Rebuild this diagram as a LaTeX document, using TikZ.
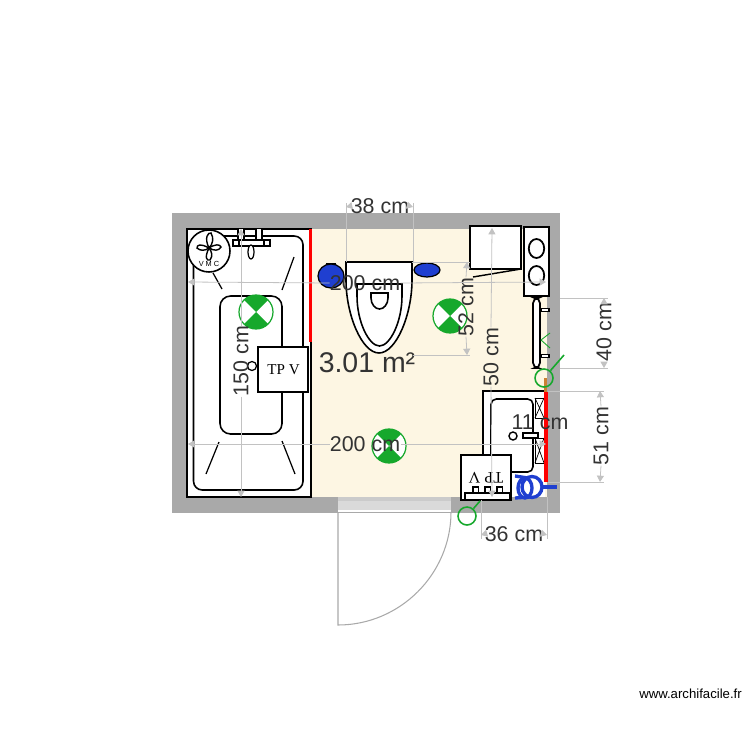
\documentclass[tikz,border=0pt]{standalone}
\usepackage{fontspec}
\setmainfont{Liberation Sans}
\usetikzlibrary{arrows.meta}

\definecolor{wallgray}{HTML}{A9A9A9}
\definecolor{doorgray}{HTML}{DADADA}
\definecolor{floorcream}{HTML}{FDF6E3}
\definecolor{dimgray}{HTML}{C2C2C2}
\definecolor{spotgreen}{HTML}{16A82C}
\definecolor{ballblue}{HTML}{1F3FD0}
\definecolor{textdark}{HTML}{333333}

\tikzset{
  fixture/.style={draw=black,line width=.9pt,fill=white},
  dimline/.style={draw=dimgray,line width=.45pt,-{Triangle[length=3.6pt,width=4pt,fill=dimgray]}},
  extline/.style={draw=dimgray,line width=.4pt},
  dimlabel/.style={text=textdark,font=\fontsize{12.2}{14}\selectfont,inner sep=0pt},
  redwire/.style={draw=red,line width=2.2pt},
  bluewire/.style={draw=ballblue,line width=1.9pt},
  greenwire/.style={draw=spotgreen,line width=.9pt}
}

\begin{document}
\begin{tikzpicture}[x=0.02cm,y=-0.02cm]
  \useasboundingbox (0,0) rectangle (750,750);

  % walls and floor
  \fill[wallgray] (172,213) rectangle (560,512.5);
  \fill[floorcream] (187,229) rectangle (547,497);
  \fill[white] (187,229) rectangle (311,497);
  \draw[black,line width=.9pt] (187,497) -- (187,229) -- (311,229) -- (311,497) -- cycle;
  \fill[white] (338,497) rectangle (451,512.5);
  \fill[doorgray] (338,497) rectangle (451,510);
  \fill[doorgray!70!wallgray] (338,497) rectangle (451,500.5);

  % door
  \draw[wallgray,line width=.5pt] (338,512) -- (451,512);
  \draw[wallgray,line width=.6pt] (338,512) -- (338,625) .. controls (400,625) and (451,574) .. (451,512);

  % bath
  \draw[fixture,rounded corners=5] (193.5,236) rectangle (303,490);
  \draw[fixture,rounded corners=6] (220,296) rectangle (282,434);
  \draw[black,line width=.7pt] (213,273) -- (222,289);
  \draw[black,line width=.7pt] (294,257) -- (282,290);
  \draw[black,line width=.7pt] (219,442) -- (206,474);
  \draw[black,line width=.7pt] (282,441) -- (295,474);
  \draw[fixture,line width=.7pt] (252,366) circle[radius=4.5];

  % taps
  \draw[fixture,line width=.7pt] (238,229) -- (238,240) -- (244,240) -- (244,229);
  \draw[fixture,line width=.7pt] (256,229) -- (256,240) -- (262,240) -- (262,229);
  \draw[fixture,line width=.7pt] (233,240) rectangle (270,246);
  \draw[fixture,line width=.7pt] (239,240) rectangle (264,246);
  \draw[fixture,line width=.7pt] (251,252) ellipse[x radius=3,y radius=7];

  % fan
  \node[circle,fixture,minimum size=42*0.02cm,inner sep=0pt] (vmc) at (209,251) {};
  \draw[black,line width=.8pt] (209,248) .. controls (204,238) and (208,232) .. (211,233) .. controls (214,238) and (213,244) .. (209,248);
  \draw[black,line width=.8pt] (209,248) .. controls (204,258) and (207,261) .. (210,260) .. controls (213,256) and (212,252) .. (209,248);
  \draw[black,line width=.8pt] (209,248) .. controls (200,243) and (197,245) .. (197,248) .. controls (200,251) and (205,251) .. (209,248);
  \draw[black,line width=.8pt] (209,248) .. controls (215,244) and (220,244) .. (221,247) .. controls (219,251) and (214,251) .. (209,248);
  \node[inner sep=0pt,font=\fontsize{4.2}{5}\selectfont] (vmclabel) at (209,264) {V M C};

  % toilet
  \draw[fixture] (346,262) -- (412,262) -- (412,280) .. controls (412,315) and (396,353) .. (379,353) .. controls (362,353) and (346,315) .. (346,280) -- cycle;
  \draw[fixture] (357,284) -- (402,284) -- (402,296) .. controls (402,322) and (390,346) .. (379.5,346) .. controls (369,346) and (357,322) .. (357,296) -- cycle;
  \draw[fixture] (371,293) -- (388,293) -- (388,298) .. controls (388,304) and (384,309) .. (379.5,309) .. controls (375,309) and (371,304) .. (371,298) -- cycle;

  % blue balls
  \fill[black] (326,263) rectangle (336,269);
  \draw[black,fill=ballblue,line width=.7pt] (331,276) ellipse[x radius=13,y radius=12];
  \fill[black] (422,262) rectangle (432,266);
  \draw[black,fill=ballblue,line width=.7pt] (427,270) ellipse[x radius=13,y radius=7];

  % ceiling spots
  \foreach \x/\y in {256/312,450/316,389/446}{
    \fill[white] (\x,\y) circle[radius=17];
    \fill[spotgreen] (\x,\y) -- ++(45:17) arc[start angle=45,end angle=135,radius=17] -- cycle;
    \fill[spotgreen] (\x,\y) -- ++(225:17) arc[start angle=225,end angle=315,radius=17] -- cycle;
    \draw[spotgreen,line width=.7pt] (\x,\y) circle[radius=17];
  }

  % worktop and hob
  \draw[fixture] (470,226) rectangle (521,269);
  \draw[black,line width=.8pt] (473,277) -- (521,269);
  \draw[fixture,line width=1pt] (524,227) rectangle (549,296);
  \draw[black,line width=1pt] (536.5,248.5) ellipse[x radius=7.7,y radius=9.5];
  \draw[black,line width=1pt] (536.5,275.5) ellipse[x radius=7.7,y radius=9.5];

  % towel rail
  \draw[fixture] (541,308.5) rectangle (549,311.5);
  \draw[fixture] (541,354.5) rectangle (549,357.5);
  \draw[fixture,line width=1pt,rounded corners=3] (533,298) rectangle (540,368);
  \draw[greenwire,line width=.5pt] (550,333) -- (541,340) -- (550,348);

  % basin unit
  \fill[white] (483,391) rectangle (545,497);
  \draw[black,line width=.9pt] (483,455) -- (483,391) -- (545,391);
  \draw[black,line width=.9pt,rounded corners=3] (511,472) -- (533,472) -- (533,399) -- (491,399) -- (491,455);
  \foreach \ya/\yb in {398/418,438/463}{
    \draw[black,line width=.4pt] (535,\ya) rectangle (544,\yb);
    \draw[black,line width=.4pt] (535,\ya) -- (544,\yb) (544,\ya) -- (535,\yb);
  }
  \draw[black,line width=.8pt,fill=white] (523,433) rectangle (538,438);
  \draw[black,line width=.8pt] (513,436) circle[radius=4];

  % electric boards
  \node[draw=black,fill=white,line width=.7pt,minimum width=50*0.02cm,minimum height=45*0.02cm,inner sep=0pt] (tpvtop) at (283,369.5) {};
  \node[inner sep=0pt,font=\fontspec{Liberation Serif}\fontsize{8.6}{10}\selectfont] (tpvlabel) at (283.5,370) {TP V};
  \node[draw=black,fill=white,line width=.7pt,minimum width=50*0.02cm,minimum height=45*0.02cm,inner sep=0pt] (tpvbottom) at (486,477.5) {};
  \node[inner sep=0pt,rotate=180,font=\fontspec{Liberation Serif}\fontsize{9.2}{10}\selectfont] (tpvflip) at (486,478) {TP V};
  \foreach \x in {473,485,497}{
    \draw[black,line width=.6pt] (\x,493) -- (\x,487) -- (\x+5.5,487) -- (\x+5.5,493);
  }
  \draw[black,line width=.7pt] (465,493) rectangle (510,500);

  % wires
  \coordinate (brownstart) at (545.5,378);
  \coordinate (brownend) at (545.5,392);
  \draw[redwire] (310.5,229) -- (310.5,342);
  \draw[redwire] (546,392) -- (546,482);
  \draw[brown!80!orange,line width=1.2pt] (brownstart) -- (brownend);
  \node[circle,draw=spotgreen,line width=.9pt,minimum size=18*0.02cm,inner sep=0pt] (switchtop) at (544,378) {};
  \coordinate (switchtopend) at (564,355);
  \draw[greenwire] (switchtop) -- (switchtopend);
  \node[circle,draw=spotgreen,line width=.9pt,minimum size=18*0.02cm,inner sep=0pt] (switchbottom) at (467,516) {};
  \coordinate (switchbottomend) at (480,501);
  \draw[greenwire] (switchbottom) -- (switchbottomend);

  % transformer
  \draw[bluewire] (525,488) ellipse[x radius=7,y radius=10];
  \draw[bluewire] (532,487) ellipse[x radius=10,y radius=10.5];
  \draw[bluewire] (515,476) -- (528,478);
  \draw[bluewire] (515,498) -- (530,497);
  \draw[bluewire] (542,487) -- (557,487);

  % dimensions
  \begin{scope}[every node/.style={dimlabel}]
    \node (d38) at (380,206) {38 cm};
    \node (d200a) at (365,283) {200 cm};
    \node (d200b) at (365,444) {200 cm};
    \node[rotate=90] (d150) at (241,361) {150 cm};
    \node[rotate=90] (d52) at (466,307) {52 cm};
    \node[rotate=90] (d50) at (491,357) {50 cm};
    \node[rotate=90] (d40) at (604,332) {40 cm};
    \node[rotate=90] (d51) at (601,436) {51 cm};
    \node (d11) at (540,422) {11 cm};
    \node (d36) at (514,534) {36 cm};
    \node[font=\fontsize{16.2}{20}\selectfont] (area) at (367,363) {3.01 m²};
  \end{scope}

  \coordinate (d38l) at (346,207);
  \coordinate (d38r) at (413,207);
  \coordinate (d200al) at (188,282);
  \coordinate (d200ar) at (546,282);
  \coordinate (d200bl) at (188,444);
  \coordinate (d200br) at (546,444);
  \coordinate (d150t) at (241,229);
  \coordinate (d150b) at (241,497);
  \coordinate (d52t) at (467,262);
  \coordinate (d52b) at (467,355);
  \coordinate (d50t) at (492,228);
  \coordinate (d50b) at (492,497);
  \coordinate (d40t) at (604,298);
  \coordinate (d40b) at (604,368);
  \coordinate (d51t) at (600,391);
  \coordinate (d51b) at (600,482);
  \coordinate (d36l) at (481,535);
  \coordinate (d36r) at (547,535);

  \path (d38.west) edge[dimline] (d38l);
  \path (d38.east) edge[dimline] (d38r);
  \path (d200a.west) edge[dimline] (d200al);
  \path (d200a.east) edge[dimline] (d200ar);
  \path (d200b.west) edge[dimline] (d200bl);
  \path (d200b.east) edge[dimline] (d200br);
  \path (d150.east) edge[dimline] (d150t);
  \path (d150.west) edge[dimline] (d150b);
  \path (d52.east) edge[dimline] (d52t);
  \path (d52.west) edge[dimline] (d52b);
  \path (d50.east) edge[dimline] (d50t);
  \path (d50.west) edge[dimline] (d50b);
  \path (d40.east) edge[dimline] (d40t);
  \path (d40.west) edge[dimline] (d40b);
  \path (d51.east) edge[dimline] (d51t);
  \path (d51.west) edge[dimline] (d51b);
  \path (d36.west) edge[dimline] (d36l);
  \path (d36.east) edge[dimline] (d36r);

  % extension lines
  \coordinate (e38l) at (346,262);
  \coordinate (e38r) at (413,262);
  \coordinate (e52t) at (412,262);
  \coordinate (e52b) at (413,355);
  \coordinate (e40t) at (560,298);
  \coordinate (e40b) at (560,368);
  \coordinate (e51t) at (548,391);
  \coordinate (e51b) at (548,482);
  \coordinate (e36l) at (481,500);
  \coordinate (e36r) at (547,497);
  \path (e38l) edge[extline] ([yshift=4*0.02cm]d38l);
  \path (e38r) edge[extline] ([yshift=4*0.02cm]d38r);
  \path (e52t) edge[extline] ([xshift=3*0.02cm]d52t);
  \path (e52b) edge[extline] ([xshift=3*0.02cm]d52b);
  \path (e40t) edge[extline] ([xshift=4*0.02cm]d40t);
  \path (e40b) edge[extline] ([xshift=4*0.02cm]d40b);
  \path (e51t) edge[extline] ([xshift=4*0.02cm]d51t);
  \path (e51b) edge[extline] ([xshift=4*0.02cm]d51b);
  \path (e36l) edge[extline] ([yshift=-4*0.02cm]d36l);
  \path (e36r) edge[extline] ([yshift=-4*0.02cm]d36r);

  \node[inner sep=0pt,font=\fontsize{7.5}{10}\selectfont] (credit) at (690.5,694) {www.archifacile.fr};
\end{tikzpicture}
\end{document}
